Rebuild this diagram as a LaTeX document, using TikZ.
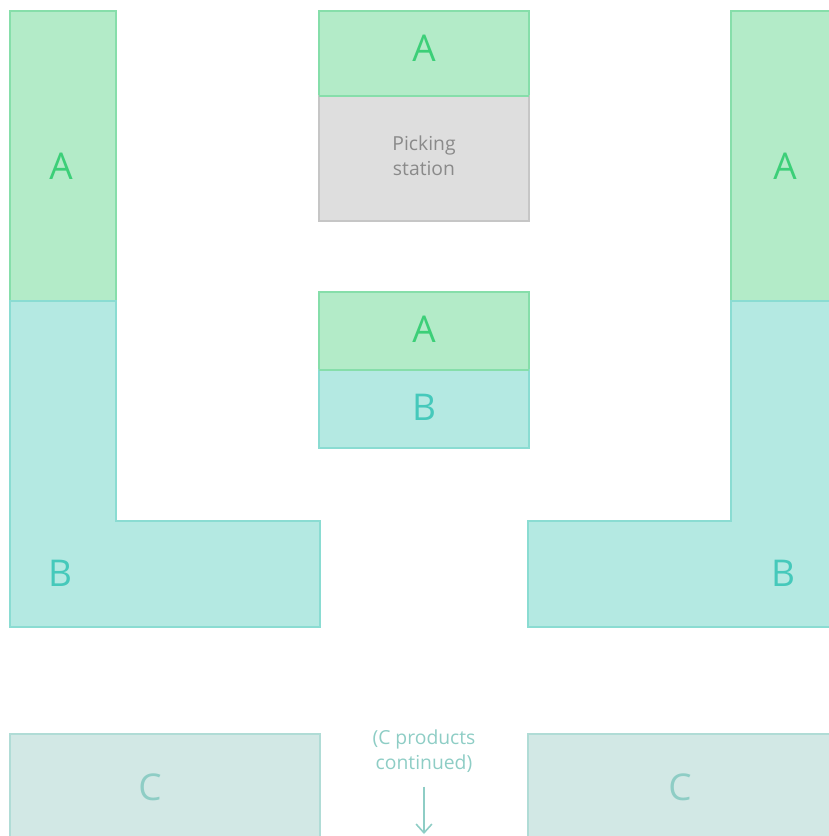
\documentclass[tikz,border=0pt]{standalone}
\usepackage{fontspec}
\setmainfont{Open Sans}
\usetikzlibrary{arrows.meta}

\definecolor{afill}{HTML}{B3EBC8}
\definecolor{aline}{HTML}{86DEAA}
\definecolor{atext}{HTML}{3CCF78}
\definecolor{bfill}{HTML}{B4E9E2}
\definecolor{bline}{HTML}{8ADCD2}
\definecolor{btext}{HTML}{45C9BB}
\definecolor{cfill}{HTML}{D2E8E5}
\definecolor{cline}{HTML}{B0DCD6}
\definecolor{ctext}{HTML}{8ECDC5}
\definecolor{pfill}{HTML}{DEDEDE}
\definecolor{pline}{HTML}{C6C6C6}
\definecolor{ptext}{HTML}{8A8A8A}

\tikzset{
  zoneA/.style={fill=afill, draw=aline, line width=0.7pt},
  zoneB/.style={fill=bfill, draw=bline, line width=0.7pt},
  zoneC/.style={fill=cfill, draw=cline, line width=0.7pt},
  picking/.style={fill=pfill, draw=pline, line width=0.7pt},
  biglabel/.style={font=\fontsize{21}{24}\selectfont, inner sep=0pt},
  smalllabel/.style={font=\fontsize{11}{14}\selectfont, align=center, inner sep=0pt}
}

\begin{document}
\begin{tikzpicture}[x=0.02cm, y=-0.02cm]
        % 1. Fix the page size and clip the shapes running off the edge
       \useasboundingbox (0,0) rectangle (829,836);
       \clip (0,0) rectangle (829,836);

       % 2. Left shelf: A on top, B as an L below
       \draw[zoneA] (10,11) rectangle (116,301);
       \draw[zoneB] (10,301) -- (10,627) -- (320,627) -- (320,521) -- (116,521) -- (116,301) -- cycle;
       \node[biglabel, text=atext] (leftA) at (61,166) {A};
       \node[biglabel, text=btext] (leftB) at (60,573) {B};

       % 3. Right shelf, mirrored
       \draw[zoneA] (731,11) rectangle (840,301);
       \draw[zoneB] (840,301) -- (731,301) -- (731,521) -- (528,521) -- (528,627) -- (840,627);
       \node[biglabel, text=atext] (rightA) at (785,166) {A};
       \node[biglabel, text=btext] (rightB) at (783,573) {B};

       % 4. Picking station with its A block
       \draw[zoneA] (319,11) rectangle (529,96);
       \draw[picking] (319,96) rectangle (529,221);
       \draw[aline, line width=0.7pt] (319,96) -- (529,96);
       \node[biglabel, text=atext] (topA) at (424,48) {A};
       \node[smalllabel, text=ptext] (station) at (424,156) {Picking\\station};

       % 5. Middle block: A over B
       \draw[zoneA] (319,292) rectangle (529,370);
       \draw[zoneB] (319,370) rectangle (529,448);
       \draw[aline, line width=1pt] (319,370) -- (529,370);
       \node[biglabel, text=atext] (midA) at (424,329) {A};
       \node[biglabel, text=btext] (midB) at (424,407) {B};

       % 6. C shelves at the bottom and the note between them
       \draw[zoneC] (10,734) rectangle (320,850);
       \draw[zoneC] (528,734) rectangle (840,850);
       \node[biglabel, text=ctext] (leftC) at (150,787) {C};
       \node[biglabel, text=ctext] (rightC) at (680,787) {C};
       \node[smalllabel, text=ctext] (cnote) at (424,751) {(C products\\continued)};
       \coordinate (cend) at (424,834);
       \draw[ctext, line width=0.9pt, -{Straight Barb[length=5pt, width=9pt]}] ([yshift=-8pt]cnote.south) -- (cend);
    \end{tikzpicture}
\end{document}
